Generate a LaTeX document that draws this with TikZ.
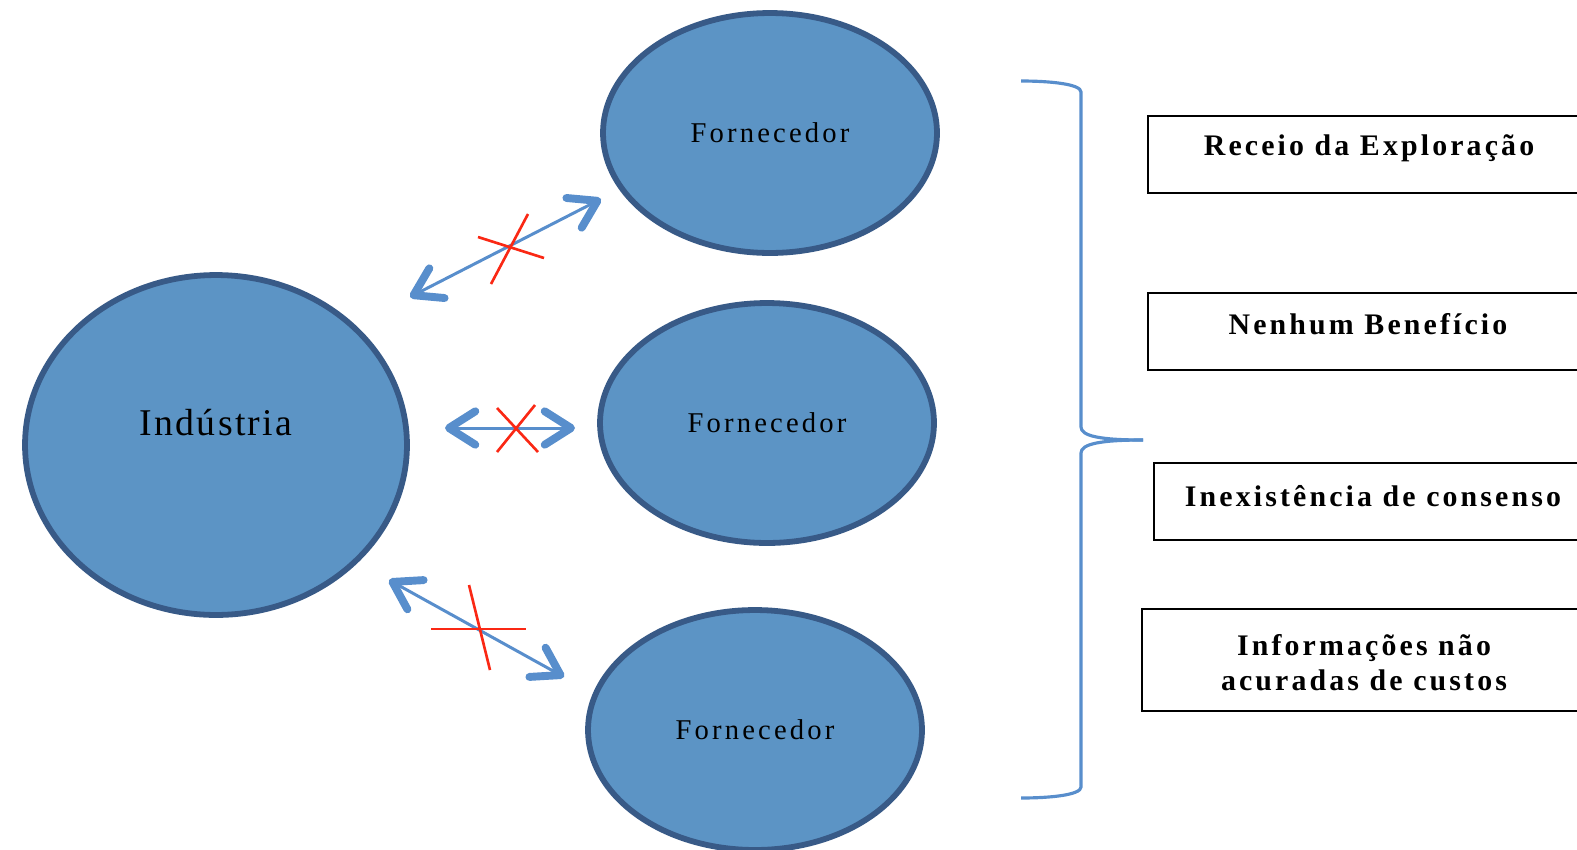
\documentclass[tikz,border=0pt]{standalone}
\usepackage{fontspec}
\setmainfont{Liberation Serif}
\usetikzlibrary{arrows.meta,shapes.geometric}
\definecolor{ellfill}{RGB}{92,148,197}
\definecolor{elldraw}{RGB}{56,90,135}
\definecolor{arrblue}{RGB}{88,142,204}
\definecolor{crossred}{RGB}{250,40,20}
\begin{document}
\begin{tikzpicture}[x=0.02cm,y=-0.02cm,
  ell/.style={ellipse,fill=ellfill,draw=elldraw,line width=3.3pt,inner sep=0pt},
  fornell/.style={ell,minimum width=6.68cm,minimum height=4.8cm,
     font={\fontsize{16.3pt}{18pt}\selectfont\addfontfeature{LetterSpace=11}}},
  dblarrow/.style={arrblue,line width=1.7pt,
     {Straight Barb[length=15pt,width=19pt,line width=4.5pt,round]}-{Straight Barb[length=15pt,width=19pt,line width=4.5pt,round]}},
  xline/.style={crossred,line width=1.5pt},
  bracestyle/.style={arrblue,line width=1.8pt},
  reasonbox/.style={draw=black,line width=1.4pt},
  reasontext/.style={font={\fontsize{17pt}{20pt}\selectfont\bfseries\addfontfeature{LetterSpace=10.5}},align=center}]
\useasboundingbox (0,0) rectangle (1577,849);
\begin{scope}
\clip (0,0) rectangle (1577,849);
% ellipses
\node[ell,minimum width=7.64cm,minimum height=6.8cm] (ind) at (216,445) {};
\node[fornell] (f1) at (770,133) {Fornecedor};
\node[fornell] (f2) at (767,423) {Fornecedor};
\node[fornell] (f3) at (755,730) {Fornecedor};
% arrow end coordinates
\coordinate (a1s) at (410,297);
\coordinate (a1e) at (601,199);
\coordinate (a2s) at (445,428);
\coordinate (a2e) at (575,428);
\coordinate (a3s) at (389,580);
\coordinate (a3e) at (564,677);
\draw[dblarrow] (a1s) -- (a1e);
\draw[dblarrow] (a2s) -- (a2e);
\draw[dblarrow] (a3s) -- (a3e);
% crosses
\coordinate (c1a) at (478,237); \coordinate (c1b) at (544,258);
\coordinate (c1c) at (528,214); \coordinate (c1d) at (491,284);
\draw[xline] (c1a) -- (c1b);
\draw[xline] (c1c) -- (c1d);
\coordinate (c2a) at (497,408); \coordinate (c2b) at (538,452);
\coordinate (c2c) at (535,405); \coordinate (c2d) at (497,452);
\draw[xline] (c2a) -- (c2b);
\draw[xline] (c2c) -- (c2d);
\coordinate (c3a) at (431,629); \coordinate (c3b) at (526,629);
\coordinate (c3c) at (469,585); \coordinate (c3d) at (490,670);
\draw[xline] (c3a) -- (c3b);
\draw[xline] (c3c) -- (c3d);
% brace
\coordinate (bt) at (1021,81);
\coordinate (bm) at (1143,440);
\coordinate (bb) at (1021,798);
\draw[bracestyle] (bt) .. controls (1050,81) and (1081,84) .. (1081,92)
   -- (1081,427) .. controls (1081,436) and (1100,440) .. (bm);
\draw[bracestyle] (bm) .. controls (1100,440) and (1081,444) .. (1081,453)
   -- (1081,787) .. controls (1081,795) and (1050,798) .. (bb);
% reason boxes
\node[reasonbox,minimum width=8.84cm,minimum height=1.54cm] (r1) at (1369,154.5) {};
\node[reasonbox,minimum width=8.84cm,minimum height=1.54cm] (r2) at (1369,331.5) {};
\node[reasonbox,minimum width=8.76cm,minimum height=1.54cm] (r3) at (1373,501.5) {};
\node[reasonbox,minimum width=8.88cm,minimum height=2.04cm] (r4) at (1364,660) {};
\end{scope}
\node[anchor=base,inner sep=0pt,font={\fontsize{21.5pt}{24pt}\selectfont\addfontfeature{LetterSpace=6}}] (indt) at (216,435) {Indústria};
\node[reasontext] (t1) at (1369,148) {Receio da Exploração};
\node[reasontext] (t2) at (1368,324) {Nenhum Benefício};
\node[reasontext] (t3) at (1373,496) {Inexistência de consenso};
\node[reasontext] (t4) at (1364,663) {Informações não\\acuradas de custos};
\end{tikzpicture}
\end{document}
